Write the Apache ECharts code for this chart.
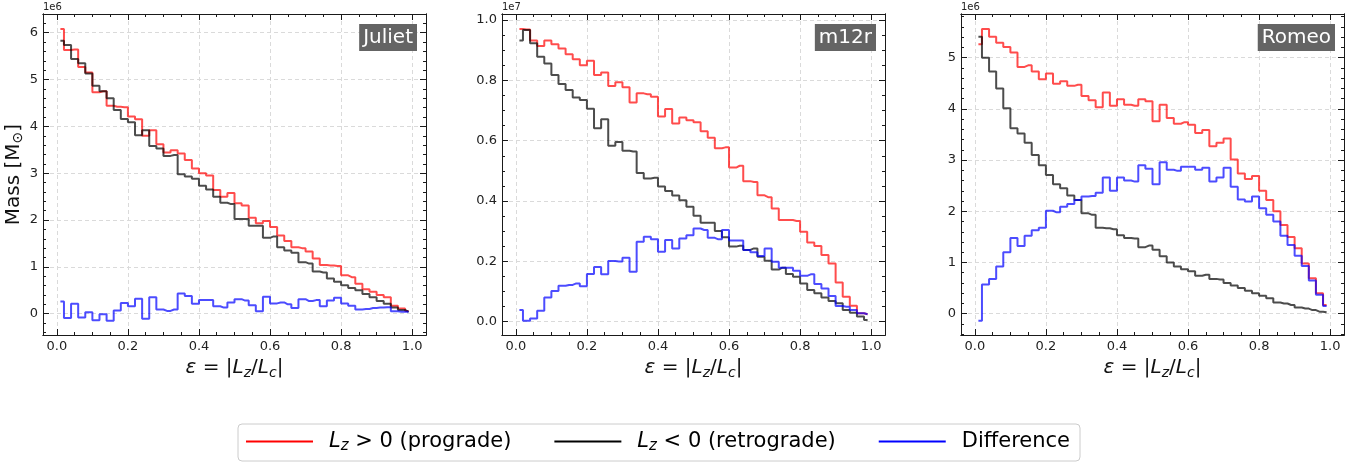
<!DOCTYPE html>
<html>
<head>
<meta charset="utf-8">
<title>Prograde vs retrograde mass by circularity</title>
<script src="https://cdn.jsdelivr.net/npm/echarts@6/dist/echarts.min.js"></script>
<style>
  html, body { margin: 0; padding: 0; background: #ffffff; }
  #chart { width: 1368px; height: 466px; }
</style>
</head>
<body>
<div id="chart"></div>
<script>
// Circularity histogram: 50 equal bins on [0, 1]; each value sits at its bin centre.
const binEdges = Array.from({ length: 51 }, (_, i) => i / 50);
const binCenters = binEdges.slice(0, -1).map((e, i) => (e + binEdges[i + 1]) / 2);

// Juliet, mass per bin in units of 1e6 Msun
const julietPrograde = [6.08, 5.63, 5.64, 5.27, 5.15, 4.73, 4.75, 4.44, 4.42, 4.41,
  4.21, 4.15, 3.80, 3.92, 3.62, 3.44, 3.49, 3.42, 3.28, 3.10,
  3.00, 2.95, 2.64, 2.50, 2.58, 2.36, 2.31, 2.05, 1.93, 1.98,
  1.85, 1.67, 1.55, 1.42, 1.40, 1.33, 1.18, 1.04, 1.03, 1.02,
  0.82, 0.78, 0.64, 0.52, 0.47, 0.40, 0.35, 0.17, 0.11, 0.06];
const julietRetrograde = [5.83, 5.74, 5.44, 5.35, 5.13, 4.87, 4.75, 4.60, 4.35, 4.16,
  4.09, 3.81, 3.92, 3.58, 3.53, 3.37, 3.39, 2.98, 2.93, 2.88,
  2.73, 2.65, 2.50, 2.37, 2.34, 2.02, 2.02, 1.88, 1.88, 1.62,
  1.65, 1.42, 1.35, 1.30, 1.10, 1.07, 0.90, 0.88, 0.75, 0.68,
  0.61, 0.55, 0.50, 0.42, 0.35, 0.27, 0.21, 0.13, 0.08, 0.04];
const julietDifference = [0.26, -0.09, 0.21, -0.08, 0.03, -0.14, -0.01, -0.15, 0.07, 0.23,
  0.16, 0.32, -0.11, 0.35, 0.09, 0.06, 0.09, 0.43, 0.38, 0.21,
  0.29, 0.29, 0.16, 0.13, 0.24, 0.31, 0.28, 0.18, 0.05, 0.36,
  0.22, 0.24, 0.20, 0.12, 0.31, 0.27, 0.29, 0.16, 0.28, 0.34,
  0.22, 0.17, 0.09, 0.10, 0.12, 0.13, 0.14, 0.05, 0.04, 0.04];

// m12r, mass per bin in units of 1e7 Msun
const m12rPrograde = [0.970, 0.969, 0.932, 0.914, 0.932, 0.920, 0.906, 0.887, 0.870, 0.850,
  0.865, 0.818, 0.826, 0.781, 0.794, 0.777, 0.727, 0.757, 0.754, 0.746,
  0.680, 0.705, 0.657, 0.677, 0.668, 0.661, 0.631, 0.610, 0.575, 0.578,
  0.511, 0.517, 0.466, 0.463, 0.419, 0.413, 0.375, 0.337, 0.337, 0.334,
  0.298, 0.263, 0.251, 0.221, 0.193, 0.130, 0.083, 0.053, 0.028, 0.025];
const m12rRetrograde = [0.932, 0.967, 0.923, 0.878, 0.856, 0.818, 0.788, 0.768, 0.743, 0.735,
  0.706, 0.641, 0.671, 0.583, 0.596, 0.567, 0.564, 0.493, 0.475, 0.477,
  0.448, 0.433, 0.418, 0.403, 0.381, 0.351, 0.328, 0.328, 0.301, 0.280,
  0.249, 0.252, 0.238, 0.243, 0.215, 0.202, 0.173, 0.179, 0.158, 0.149,
  0.127, 0.105, 0.094, 0.080, 0.069, 0.061, 0.039, 0.030, 0.017, 0.006];
const m12rDifference = [0.039, 0.003, 0.011, 0.036, 0.080, 0.102, 0.119, 0.122, 0.127, 0.118,
  0.158, 0.181, 0.157, 0.201, 0.200, 0.212, 0.166, 0.265, 0.282, 0.273,
  0.232, 0.271, 0.243, 0.276, 0.287, 0.309, 0.304, 0.278, 0.273, 0.304,
  0.269, 0.269, 0.238, 0.230, 0.218, 0.243, 0.199, 0.179, 0.179, 0.169,
  0.152, 0.157, 0.125, 0.110, 0.085, 0.052, 0.050, 0.039, 0.028, 0.025];

// Romeo, mass per bin in units of 1e6 Msun
const romeoPrograde = [5.26, 5.56, 5.41, 5.29, 5.21, 5.10, 4.82, 4.85, 4.73, 4.58,
  4.69, 4.49, 4.54, 4.45, 4.47, 4.25, 4.17, 4.03, 4.32, 4.06,
  4.19, 4.08, 4.06, 4.19, 4.15, 3.76, 4.08, 3.82, 3.71, 3.74,
  3.69, 3.53, 3.59, 3.27, 3.34, 3.42, 3.01, 2.74, 2.63, 2.69,
  2.40, 2.22, 2.00, 1.73, 1.50, 1.28, 0.98, 0.69, 0.40, 0.17];
const romeoRetrograde = [5.41, 5.00, 4.73, 4.40, 4.01, 3.62, 3.52, 3.34, 3.10, 2.90,
  2.71, 2.53, 2.45, 2.31, 2.22, 1.96, 1.93, 1.68, 1.67, 1.65,
  1.53, 1.48, 1.47, 1.30, 1.33, 1.25, 1.12, 1.00, 0.92, 0.87,
  0.83, 0.74, 0.76, 0.68, 0.67, 0.60, 0.55, 0.50, 0.45, 0.40,
  0.35, 0.30, 0.22, 0.20, 0.17, 0.12, 0.10, 0.07, 0.04, 0.03];
const romeoDifference = [-0.14, 0.57, 0.68, 0.92, 1.20, 1.48, 1.32, 1.52, 1.63, 1.68,
  2.01, 1.98, 2.09, 2.14, 2.22, 2.29, 2.30, 2.36, 2.66, 2.40,
  2.66, 2.60, 2.58, 2.90, 2.83, 2.53, 2.96, 2.81, 2.79, 2.87,
  2.87, 2.81, 2.85, 2.58, 2.66, 2.85, 2.48, 2.23, 2.19, 2.29,
  2.06, 1.93, 1.80, 1.52, 1.34, 1.13, 0.93, 0.65, 0.37, 0.15];

// Tick values
const xTicks = [0, 0.2, 0.4, 0.6, 0.8, 1.0];
const julietYTicks = [0, 1, 2, 3, 4, 5, 6];
const m12rYTicks = [0, 0.2, 0.4, 0.6, 0.8, 1.0];
const romeoYTicks = [0, 1, 2, 3, 4, 5];

const FONT = 'DejaVu Sans';
const INK = '#1a1a1a';
const COLORS = { prograde: '#ff0000', retrograde: '#000000', Difference: '#0000ff' };

const panels = [
  { label: 'Juliet', scaleText: '1e6', pro: julietPrograde, retro: julietRetrograde, diff: julietDifference,
    yTicks: julietYTicks, yMinorStep: 0.2, yDigits: 0, yRange: [-0.455, 6.40], left: 43, labelRight: 951 },
  { label: 'm12r', scaleText: '1e7', pro: m12rPrograde, retro: m12rRetrograde, diff: m12rDifference,
    yTicks: m12rYTicks, yMinorStep: 0.05, yDigits: 1, yRange: [-0.044, 1.020], left: 502, labelRight: 492 },
  { label: 'Romeo', scaleText: '1e6', pro: romeoPrograde, retro: romeoRetrograde, diff: romeoDifference,
    yTicks: romeoYTicks, yMinorStep: 0.2, yDigits: 0, yRange: [-0.416, 5.853], left: 961, labelRight: 33 }
];
const xRange = [-0.039, 1.039];
const GRID_TOP = 14, GRID_W = 383, GRID_H = 321;

function minorTicks(step, range, majors) {
  const out = [];
  const start = Math.ceil(range[0] / step - 1e-9);
  const end = Math.floor(range[1] / step + 1e-9);
  for (let k = start; k <= end; k++) {
    const v = +(k * step).toFixed(6);
    if (!majors.some(m => Math.abs(m - v) < 1e-9)) out.push(v);
  }
  return out;
}

function baseAxis(gridIndex, position, range, ticks, tickLen, extra) {
  return Object.assign({
    type: 'value', gridIndex, position, min: range[0], max: range[1],
    axisLine: { show: true, onZero: false, lineStyle: { color: INK, width: 1 } },
    axisTick: { show: true, inside: true, length: tickLen, customValues: ticks,
                lineStyle: { color: INK, width: 1 } },
    axisLabel: { show: false },
    splitLine: { show: false },
    minorTick: { show: false },
    minorSplitLine: { show: false }
  }, extra || {});
}

const gridLineStyle = { color: '#dadada', width: 1, type: [4, 3] };
const tickLabelStyle = { show: true, fontFamily: FONT, fontSize: 13, color: '#222222', margin: 5 };

const xLabelName = '{i|\u03b5}{n| = |}{i|L}{s|z}{n|/}{i|L}{s|c}{n||}';
const mathRich = {
  n: { fontFamily: FONT, fontSize: 20, color: '#111', lineHeight: 24 },
  i: { fontFamily: FONT, fontSize: 20, fontStyle: 'italic', color: '#111', lineHeight: 24 },
  s: { fontFamily: FONT, fontSize: 14, fontStyle: 'italic', color: '#111', lineHeight: 10, verticalAlign: 'bottom' }
};
const massRich = {
  n: { fontFamily: FONT, fontSize: 20, color: '#111', lineHeight: 24 },
  s: { fontFamily: FONT, fontSize: 14, color: '#111', lineHeight: 10, verticalAlign: 'bottom' }
};

const grids = [], xAxes = [], yAxes = [], series = [], titles = [];

panels.forEach((p, gi) => {
  grids.push({ left: p.left, top: GRID_TOP, width: GRID_W, height: GRID_H, containLabel: false, outerBoundsMode: 'none' });

  const xMinor = minorTicks(0.05, xRange, xTicks);
  const yMinor = minorTicks(p.yMinorStep, p.yRange, p.yTicks);

  // bottom: major ticks with labels and grid lines, then minor ticks; top mirrors them
  xAxes.push(baseAxis(gi, 'bottom', xRange, xTicks, 6, {
    axisLabel: Object.assign({}, tickLabelStyle, { customValues: xTicks, formatter: v => v.toFixed(1) }),
    splitLine: { show: true, lineStyle: gridLineStyle },
    name: xLabelName, nameLocation: 'middle', nameGap: 20,
    nameTextStyle: { rich: mathRich }
  }));
  xAxes.push(baseAxis(gi, 'bottom', xRange, xMinor, 3));
  xAxes.push(baseAxis(gi, 'top', xRange, xTicks, 6));
  xAxes.push(baseAxis(gi, 'top', xRange, xMinor, 3));

  const leftMajor = {
    axisLabel: Object.assign({}, tickLabelStyle, { customValues: p.yTicks, formatter: v => v.toFixed(p.yDigits) }),
    splitLine: { show: true, lineStyle: gridLineStyle }
  };
  if (gi === 0) {
    Object.assign(leftMajor, {
      name: '{n|Mass [M}{s|\u2299}{n|]}', nameLocation: 'middle', nameGap: 15,
      nameTextStyle: { rich: massRich }
    });
  }
  yAxes.push(baseAxis(gi, 'left', p.yRange, p.yTicks, 6, leftMajor));
  yAxes.push(baseAxis(gi, 'left', p.yRange, yMinor, 3, {
    name: p.scaleText, nameLocation: 'end', nameGap: 2,
    nameTextStyle: { fontFamily: FONT, fontSize: 10, color: '#222', align: 'left', verticalAlign: 'bottom' }
  }));
  yAxes.push(baseAxis(gi, 'right', p.yRange, p.yTicks, 6));
  yAxes.push(baseAxis(gi, 'right', p.yRange, yMinor, 3));

  [['prograde', p.pro], ['retrograde', p.retro], ['Difference', p.diff]].forEach(([name, vals]) => {
    series.push({
      type: 'line', name, xAxisIndex: gi * 4, yAxisIndex: gi * 4,
      data: binCenters.map((x, i) => [x, vals[i]]),
      step: 'middle', symbol: 'none', showSymbol: false,
      lineStyle: { color: COLORS[name], width: 2, opacity: 0.7 },
      itemStyle: { color: COLORS[name] },
      emphasis: { disabled: true },
      animation: false, z: 3
    });
  });

  titles.push({
    text: p.label, right: p.labelRight, top: 24, padding: [2, 4, 2, 4],
    backgroundColor: '#646464',
    textStyle: { fontFamily: FONT, fontSize: 20, fontWeight: 'normal', color: '#ffffff', lineHeight: 23 }
  });
});

// Legend labels; the first token of each label carries the gap after the line handle
const legendText = {
  prograde: '{i0|L}{s|z}{n| > 0 (prograde)}',
  retrograde: '{i0|L}{s|z}{n| < 0 (retrograde)}',
  Difference: '{n0|Difference}'
};
const legendRich = {
  n: { fontFamily: FONT, fontSize: 21, color: '#000', lineHeight: 25 },
  n0: { fontFamily: FONT, fontSize: 21, color: '#000', lineHeight: 25, padding: [0, 0, 0, 11] },
  i0: { fontFamily: FONT, fontSize: 21, fontStyle: 'italic', color: '#000', lineHeight: 25, padding: [0, 0, 0, 11] },
  s: { fontFamily: FONT, fontSize: 15, fontStyle: 'italic', color: '#000', lineHeight: 10, verticalAlign: 'bottom' }
};

const chart = echarts.init(document.getElementById('chart'), null, { renderer: 'canvas' });
chart.setOption({
  animation: false,
  backgroundColor: '#ffffff',
  title: titles,
  grid: grids,
  xAxis: xAxes,
  yAxis: yAxes,
  series,
  legend: {
    left: 238, top: 424,
    orient: 'horizontal',
    selectedMode: false,
    icon: 'rect', itemWidth: 67, itemHeight: 2, itemGap: 43,
    padding: [7, 10, 7, 8],
    borderColor: '#cccccc', borderWidth: 1, borderRadius: 4,
    data: ['prograde', 'retrograde', 'Difference'].map(n => ({
      name: n, itemStyle: { color: COLORS[n], opacity: 1, borderWidth: 0 }
    })),
    formatter: n => legendText[n],
    textStyle: { fontFamily: FONT, fontSize: 21, color: '#000', rich: legendRich }
  }
});
</script>
</body>
</html>
